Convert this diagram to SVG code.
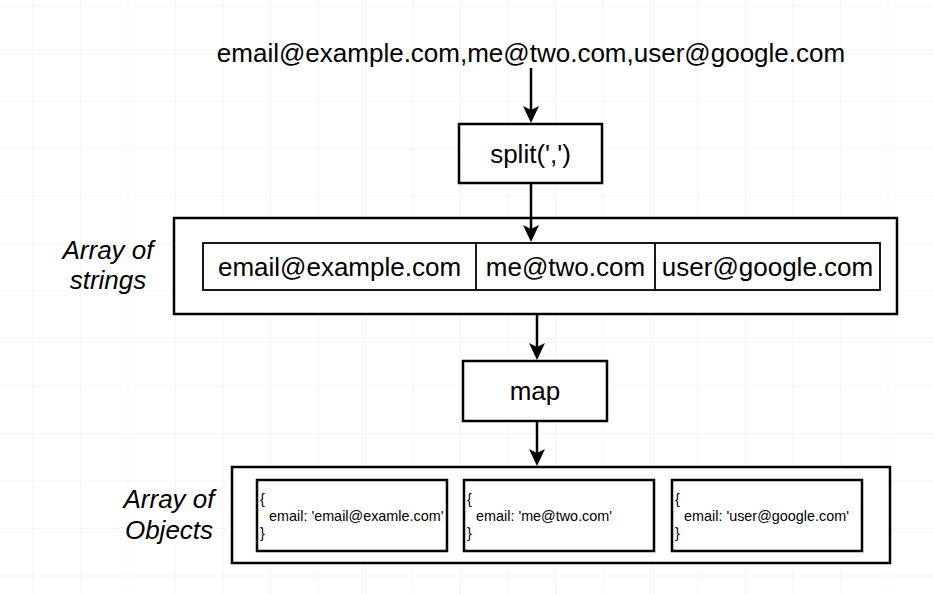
<svg xmlns="http://www.w3.org/2000/svg" width="934" height="594" viewBox="0 0 934 594">
  <defs>
    <pattern id="grid" x="32.5" y="5.5" width="47.5" height="47.5" patternUnits="userSpaceOnUse">
      <path d="M 47.5 0 L 0 0 0 47.5" fill="none" stroke="#ebebeb" stroke-width="1"/>
    </pattern>
    <marker id="arrow" viewBox="0 0 17 16" refX="11" refY="8" markerWidth="17" markerHeight="16" markerUnits="userSpaceOnUse" orient="auto">
      <path d="M0,0 L17,8 L0,16 L4,8 Z" fill="#000"/>
    </marker>
    <style>
      text { font-family: "Liberation Sans", Arial, Helvetica, sans-serif; fill: #000; }
      .big { font-size: 26px; }
      .lbl { font-size: 26px; font-style: italic; }
      .obj { font-size: 14.4px; }
      .box { fill: #fff; stroke: #000; stroke-width: 2.5; }
      .row { fill: #fff; stroke: #000; stroke-width: 1.8; }
      .conn { stroke: #000; stroke-width: 2.5; fill: none; marker-end: url(#arrow); }
    </style>
  </defs>
  <rect x="0" y="0" width="934" height="594" fill="#fff"/>
  <rect x="0" y="0" width="934" height="594" fill="url(#grid)"/>

  <g id="input">
    <text class="big" x="531" y="62" text-anchor="middle">email@example.com,me@two.com,user@google.com</text>
  </g>

  <g id="split">
    <rect class="box" x="459" y="124" width="143" height="59"/>
    <text class="big" x="530.5" y="163" text-anchor="middle">split(',')</text>
  </g>

  <g id="array-of-strings">
    <rect class="box" x="174" y="218" width="723" height="96"/>
    <rect class="row" x="203" y="243" width="677" height="47"/>
    <line x1="476" y1="243" x2="476" y2="290" stroke="#000" stroke-width="1.8"/>
    <line x1="655" y1="243" x2="655" y2="290" stroke="#000" stroke-width="1.8"/>
    <text class="big" x="339.5" y="276" text-anchor="middle">email@example.com</text>
    <text class="big" x="565.5" y="276" text-anchor="middle">me@two.com</text>
    <text class="big" x="767.5" y="276" text-anchor="middle">user@google.com</text>
  </g>

  <g id="label-strings">
    <text class="lbl" x="108" y="259" text-anchor="middle">Array of</text>
    <text class="lbl" x="108" y="289" text-anchor="middle">strings</text>
  </g>

  <g id="map">
    <rect class="box" x="463" y="361" width="144" height="60"/>
    <text class="big" x="535" y="400" text-anchor="middle">map</text>
  </g>

  <g id="array-of-objects">
    <rect class="box" x="232" y="467" width="658" height="96"/>
    <rect class="box" x="257" y="480" width="190" height="71"/>
    <rect class="box" x="464" y="480" width="190" height="71"/>
    <rect class="box" x="672" y="480" width="190" height="71"/>
    <text class="obj" x="260" y="504">{</text>
    <text class="obj" x="269" y="521">email: 'email@examle.com'</text>
    <text class="obj" x="260" y="538">}</text>
    <text class="obj" x="467" y="504">{</text>
    <text class="obj" x="476" y="521">email: 'me@two.com'</text>
    <text class="obj" x="467" y="538">}</text>
    <text class="obj" x="675" y="504">{</text>
    <text class="obj" x="684" y="521">email: 'user@google.com'</text>
    <text class="obj" x="675" y="538">}</text>
  </g>

  <g id="label-objects">
    <text class="lbl" x="169" y="508" text-anchor="middle">Array of</text>
    <text class="lbl" x="169" y="539" text-anchor="middle">Objects</text>
  </g>

  <g id="connectors">
    <line class="conn" x1="531" y1="68" x2="531" y2="117"/>
    <line class="conn" x1="531" y1="183" x2="531" y2="236"/>
    <line class="conn" x1="537" y1="314" x2="537" y2="354"/>
    <line class="conn" x1="537" y1="421" x2="537" y2="460"/>
  </g>
</svg>
